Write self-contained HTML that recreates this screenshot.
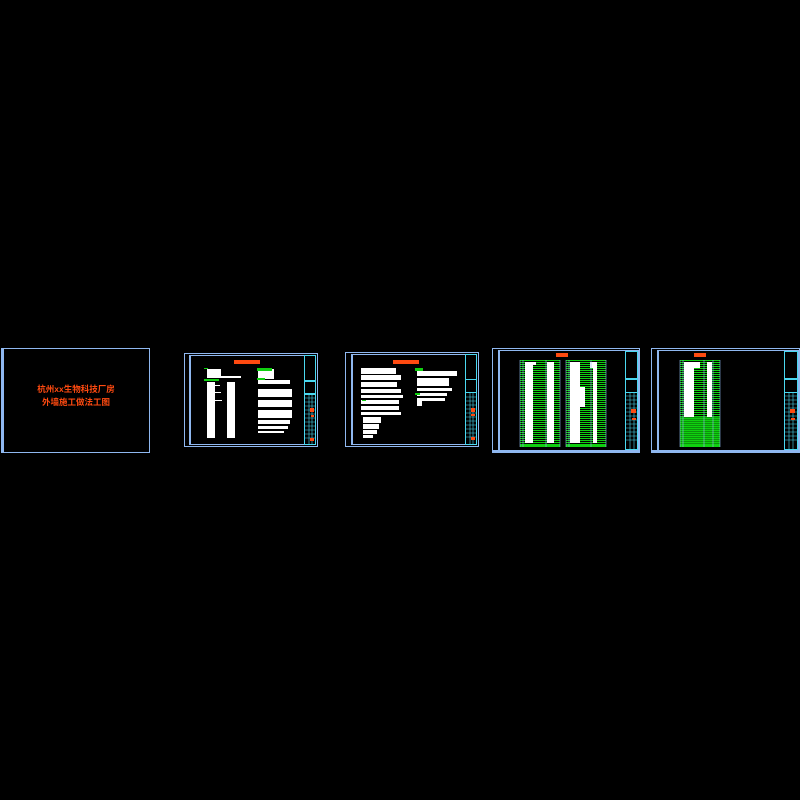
<!DOCTYPE html>
<html><head><meta charset="utf-8"><style>
html,body{margin:0;padding:0;background:#000;width:800px;height:800px;overflow:hidden}
svg{display:block}
</style></head><body>
<svg width="800" height="800" viewBox="0 0 800 800" xmlns="http://www.w3.org/2000/svg">
<rect width="800" height="800" fill="#000"/>
<defs>
<pattern id="g" width="4" height="2" patternUnits="userSpaceOnUse"><rect width="4" height="1" fill="#10d010"/></pattern>
</defs>
<g fill="none" stroke="#8fb8f0" stroke-width="1">
<rect x="1.5" y="348.5" width="148" height="104"/>
<rect x="184.5" y="353.5" width="133" height="93"/>
<rect x="189.5" y="355.5" width="126" height="89"/>
<rect x="345.5" y="352.5" width="133" height="94"/>
<rect x="351.5" y="354.5" width="125" height="90"/>
<rect x="492.5" y="348.5" width="147" height="104"/>
<rect x="498.5" y="350.5" width="140" height="100"/>
<rect x="651.5" y="348.5" width="148" height="104"/>
<rect x="657.5" y="350.5" width="141" height="100"/>
</g>
<g fill="#8fb8f0">
<rect x="2" y="349" width="2" height="103"/>
<rect x="189" y="355" width="2" height="90"/>
<rect x="351" y="354" width="2" height="91"/>
<rect x="498" y="350" width="2" height="101"/>
<rect x="657" y="350" width="2" height="101"/>
<rect x="492" y="450" width="148" height="3"/>
<rect x="651" y="450" width="149" height="3"/>
</g>
<text x="76" y="392" font-family="Liberation Sans,'Noto Sans CJK SC',sans-serif" font-size="8.5" font-weight="bold" fill="#ff4a10" text-anchor="middle">杭州xx生物科技厂房</text>
<text x="76" y="405" font-family="Liberation Sans,'Noto Sans CJK SC',sans-serif" font-size="8.5" font-weight="bold" fill="#ff4a10" text-anchor="middle">外墙施工做法工图</text>
<!-- title blocks -->
<g fill="none" stroke="#4ad8f0" stroke-width="1">
<rect x="304.5" y="355.5" width="11" height="89"/>
<rect x="465.5" y="354.5" width="11" height="90"/>
<rect x="625.5" y="351.5" width="12" height="98"/>
<rect x="784.5" y="351.5" width="13" height="98"/>
</g>
<g fill="#4ad8f0">
<rect x="305" y="380" width="10" height="2"/><rect x="305" y="393" width="10" height="2"/>
<rect x="466" y="379" width="10" height="1"/><rect x="466" y="392" width="10" height="1"/>
<rect x="626" y="378" width="11" height="2"/><rect x="626" y="392" width="11" height="1"/>
<rect x="785" y="378" width="12" height="2"/><rect x="785" y="392" width="12" height="1"/>
</g>
<g stroke="#4ad8f0" stroke-width="0.6">
<path d="M305 398h10M305 402h10M305 406h10M305 410h10M305 414h10M305 418h10M305 422h10M305 426h10M305 430h10M305 434h10M305 438h10M309 394v50M312 394v50"/>
<path d="M466 397h10M466 401h10M466 405h10M466 409h10M466 413h10M466 417h10M466 421h10M466 425h10M466 429h10M466 433h10M466 437h10M470 393v51M473 393v51"/>
<path d="M626 396h11M626 400h11M626 404h11M626 408h11M626 412h11M626 416h11M626 420h11M626 424h11M626 428h11M626 432h11M626 436h11M626 440h11M630 393v56M634 393v56"/>
<path d="M785 396h12M785 400h12M785 404h12M785 408h12M785 412h12M785 416h12M785 420h12M785 424h12M785 428h12M785 432h12M785 436h12M785 440h12M789 393v56M793 393v56"/>
</g>
<g fill="#ff4a10">
<rect x="310" y="408" width="4" height="4"/><rect x="311" y="415" width="3" height="2"/><rect x="310" y="438" width="4" height="3"/>
<rect x="471" y="408" width="4" height="4"/><rect x="471" y="414" width="4" height="2"/><rect x="471" y="437" width="4" height="3"/>
<rect x="631" y="409" width="5" height="4"/><rect x="632" y="418" width="4" height="2"/>
<rect x="790" y="409" width="5" height="4"/><rect x="791" y="418" width="4" height="2"/>
<!-- headers -->
<rect x="234" y="360" width="26" height="4"/>
<rect x="393" y="360" width="26" height="4"/>
<rect x="556" y="353" width="12" height="4"/>
<rect x="694" y="353" width="12" height="4"/>
</g>
<!-- sheet2 text -->
<g fill="#fff">
<rect x="207" y="369" width="14" height="8"/><rect x="207" y="376" width="34" height="2"/>
<rect x="207" y="382" width="8" height="56"/><rect x="227" y="382" width="8" height="56"/>
<rect x="208" y="385" width="12" height="1"/><rect x="208" y="392" width="13" height="1"/><rect x="208" y="400" width="14" height="1"/>
<rect x="258" y="369" width="16" height="10"/><rect x="258" y="380" width="32" height="4"/>
<rect x="258" y="389" width="34" height="8"/><rect x="258" y="400" width="34" height="7"/><rect x="258" y="410" width="34" height="8"/>
<rect x="258" y="420" width="32" height="4"/><rect x="258" y="426" width="30" height="3"/><rect x="258" y="431" width="26" height="2"/>
</g>
<g fill="#10d010"><rect x="204" y="368" width="4" height="1"/><rect x="204" y="379" width="15" height="2"/><rect x="257" y="368" width="15" height="3"/><rect x="257" y="378" width="8" height="2"/></g>
<!-- sheet3 text -->
<g fill="#fff">
<rect x="361" y="368" width="35" height="6"/><rect x="361" y="375" width="40" height="5"/><rect x="361" y="382" width="36" height="5"/>
<rect x="361" y="389" width="40" height="4"/><rect x="361" y="395" width="42" height="3"/><rect x="361" y="400" width="38" height="4"/>
<rect x="361" y="406" width="38" height="4"/><rect x="361" y="412" width="40" height="3"/><rect x="363" y="417" width="18" height="6"/>
<rect x="363" y="424" width="16" height="5"/><rect x="363" y="430" width="14" height="4"/><rect x="363" y="435" width="10" height="3"/>
<rect x="417" y="371" width="40" height="5"/><rect x="417" y="378" width="32" height="8"/><rect x="417" y="388" width="35" height="3"/>
<rect x="417" y="393" width="30" height="3"/><rect x="417" y="398" width="28" height="3"/><rect x="417" y="401" width="5" height="5"/>
</g>
<g fill="#10d010"><rect x="415" y="368" width="8" height="3"/><rect x="415" y="393" width="5" height="2"/><rect x="362" y="400" width="4" height="1"/></g>
<!-- sheet4 tables -->
<rect x="520" y="360" width="40" height="87" fill="url(#g)"/>
<rect x="566" y="360" width="40" height="87" fill="url(#g)"/>
<rect x="520" y="445" width="40" height="2" fill="#10d010"/><rect x="566" y="445" width="40" height="2" fill="#10d010"/>
<g fill="#fff">
<rect x="525" y="362" width="8" height="81"/><rect x="532" y="362" width="4" height="3"/><rect x="547" y="362" width="7" height="81"/>
<rect x="570" y="362" width="10" height="81"/><rect x="580" y="387" width="5" height="20"/><rect x="590" y="362" width="7" height="6"/><rect x="593" y="368" width="4" height="75"/>
</g>
<g stroke="#8fb8f0" stroke-width="0.6"><path d="M520 360v87M523 360v87M546 360v87M560 360v87M566 360v87M569 360v87M591 360v87M606 360v87"/></g>
<!-- sheet5 table -->
<rect x="680" y="360" width="40" height="87" fill="url(#g)"/>
<rect x="680" y="417" width="40" height="30" fill="#10d010" opacity="0.7"/>
<rect x="680" y="445" width="40" height="2" fill="#10d010"/>
<g fill="#fff"><rect x="684" y="362" width="10" height="55"/><rect x="694" y="362" width="6" height="6"/><rect x="707" y="362" width="5" height="55"/></g>
<g stroke="#8fb8f0" stroke-width="0.6"><path d="M680 360v87M683 360v87M704 360v87M713 360v87M720 360v87"/></g>
</svg>
</body></html>
